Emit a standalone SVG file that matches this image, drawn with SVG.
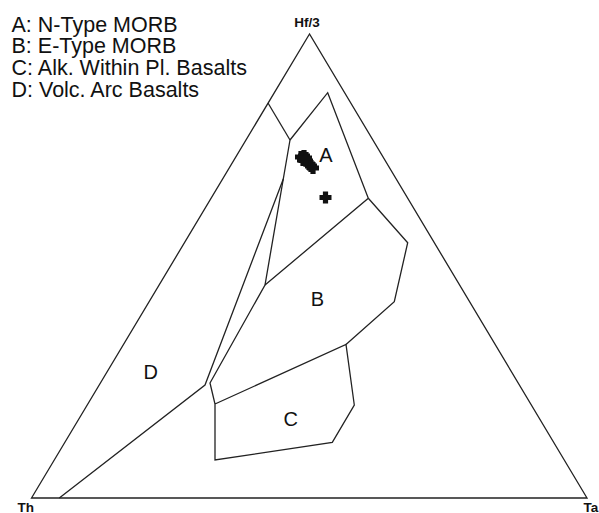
<svg xmlns="http://www.w3.org/2000/svg" width="599" height="513" viewBox="0 0 599 513">
<defs>
<style>
.ln{fill:none;stroke:#222;stroke-width:1.3;stroke-linejoin:miter}
.leg{font-family:"Liberation Sans",Arial,sans-serif;font-size:21.5px;fill:#111}
.rl{font-family:"Liberation Sans",Arial,sans-serif;font-size:20px;fill:#111;text-anchor:middle}
.ax{font-family:"Liberation Sans",Arial,sans-serif;font-size:13.5px;font-weight:bold;fill:#111}
.pt{fill:#111}
</style>
<path id="cr" d="M-2.6,-6 h5.2 v3.4 h3.4 v5.2 h-3.4 v3.4 h-5.2 v-3.4 h-3.4 v-5.2 h3.4 z"/>
</defs>
<rect width="599" height="513" fill="#fff"/>
<g id="legend">
<text class="leg" x="11.5" y="31.7">A: N-Type MORB</text>
<text class="leg" x="11.5" y="53.3">B: E-Type MORB</text>
<text class="leg" x="11.5" y="75">C: Alk. Within Pl. Basalts</text>
<text class="leg" x="11.5" y="96.7">D: Volc. Arc Basalts</text>
</g>
<g id="axes">
<path class="ln" d="M309.5,34 L31.5,498 L587,498 Z"/>
<text class="ax" x="307" y="27.3" text-anchor="middle">Hf/3</text>
<text class="ax" x="17.5" y="511.5">Th</text>
<text class="ax" x="583.5" y="511.5">Ta</text>
</g>
<g id="boundaries">
<path id="field-D-upper" class="ln" d="M268,103 L290,140"/>
<path id="field-A" class="ln" d="M290,140 L327.7,92.7 L368.3,198.3 L265,285"/>
<path id="field-left" class="ln" d="M290,140 L265,285 L210,383 L215,404 L215,460 L332.3,442.3 L354.3,405 L346,344.5 L215,404"/>
<path id="field-B" class="ln" d="M368.3,198.3 L407.7,242.7 L394.3,301.7 L346,344.5"/>
<path id="field-D" class="ln" d="M283.3,179 L205,385 L59.3,498"/>
</g>
<g id="labels">
<text class="rl" x="325.8" y="161.7">A</text>
<text class="rl" x="317.3" y="305.7">B</text>
<text class="rl" x="290.8" y="425.7">C</text>
<text class="rl" x="150.8" y="379.3">D</text>
</g>
<g id="samples" class="pt">
<use href="#cr" x="301" y="157"/>
<use href="#cr" x="304" y="156"/>
<use href="#cr" x="303" y="160"/>
<use href="#cr" x="307" y="161"/>
<use href="#cr" x="309" y="164"/>
<use href="#cr" x="311" y="166"/>
<use href="#cr" x="313" y="168"/>
<use href="#cr" x="306" y="158"/>
<use href="#cr" x="325.5" y="197.5"/>
</g>
</svg>
